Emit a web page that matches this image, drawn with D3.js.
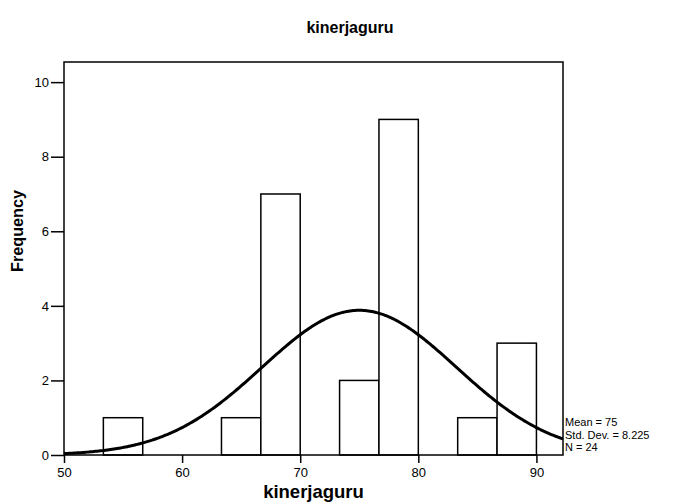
<!DOCTYPE html>
<html><head><meta charset="utf-8">
<script src="https://cdn.jsdelivr.net/npm/d3@7"></script>
<style>body{margin:0;background:#fff}svg{display:block}text{font-family:"Liberation Sans",Arial,sans-serif;fill:#000}</style>
</head><body>
<svg id="c" width="693" height="502"></svg>
<script>
const binStarts = [53.333, 63.333, 66.667, 73.333, 76.667, 83.333, 86.667];
const counts = [1, 1, 7, 2, 9, 1, 3];
const binWidth = 10 / 3;
const xTicks = [50, 60, 70, 80, 90];
const yTicks = [0, 2, 4, 6, 8, 10];
const meanVal = 75, sdVal = 8.225, nVal = 24;
const statLines = ["Mean = 75", "Std. Dev. = 8.225", "N = 24"];
const titleText = "kinerjaguru", xTitle = "kinerjaguru", yTitle = "Frequency";

const svg = d3.select("#c");
const L = 64, R = 563, T = 62, B = 455;
const x = d3.scaleLinear().domain([50, 92.25]).range([L, R]);
const y = d3.scaleLinear().domain([0, 10.54]).range([B, T]);

svg.append("text").attr("x", 350).attr("y", 33).attr("text-anchor", "middle")
  .style("font-size", "16px").style("font-weight", "bold").text(titleText);

// bars
svg.append("g").selectAll("rect").data(binStarts).join("rect")
  .attr("x", d => x(d)).attr("width", d => x(d + binWidth) - x(d))
  .attr("y", (d, i) => y(counts[i])).attr("height", (d, i) => y(0) - y(counts[i]))
  .attr("fill", "#fff").attr("stroke", "#000").attr("stroke-width", 1.5);

// normal curve
const pts = d3.range(0, 301).map(i => {
  const v = 50 + (92.25 - 50) * i / 300;
  const z = (v - meanVal) / sdVal;
  return [v, nVal * binWidth * Math.exp(-0.5 * z * z) / (sdVal * Math.sqrt(2 * Math.PI))];
});
svg.append("path").datum(pts)
  .attr("d", d3.line().x(d => x(d[0])).y(d => y(d[1])))
  .attr("fill", "none").attr("stroke", "#000").attr("stroke-width", 3);

// frame
svg.append("rect").attr("x", L).attr("y", T).attr("width", R - L).attr("height", B - T)
  .attr("fill", "none").attr("stroke", "#000").attr("stroke-width", 1.5);

// axes
const xa = svg.append("g").attr("transform", `translate(0,${B})`)
  .call(d3.axisBottom(x).tickValues(xTicks).tickSize(8).tickSizeOuter(0).tickPadding(5));
xa.select(".domain").remove();
xa.selectAll(".tick line").attr("stroke-width", 1.5);
xa.selectAll("text").style("font-size", "13px").style("font-family", "Liberation Sans, Arial, sans-serif");

const ya = svg.append("g").attr("transform", `translate(${L},0)`)
  .call(d3.axisLeft(y).tickValues(yTicks).tickSize(13).tickSizeOuter(0).tickPadding(2));
ya.select(".domain").remove();
ya.selectAll(".tick line").attr("stroke-width", 1.5);
ya.selectAll("text").style("font-size", "13px").style("font-family", "Liberation Sans, Arial, sans-serif");

svg.append("text").attr("x", (L + R) / 2).attr("y", 498).attr("text-anchor", "middle")
  .style("font-size", "18.5px").style("font-weight", "bold").text(xTitle);

svg.append("text").attr("transform", "translate(23,231) rotate(-90)").attr("text-anchor", "middle")
  .style("font-size", "16px").style("font-weight", "bold")
  .attr("textLength", 82).attr("lengthAdjust", "spacingAndGlyphs").text(yTitle);

svg.append("g").selectAll("text").data(statLines).join("text")
  .attr("x", 565).attr("y", (d, i) => 426 + i * 12.7)
  .style("font-size", "11px").text(d => d);
</script>
</body></html>
